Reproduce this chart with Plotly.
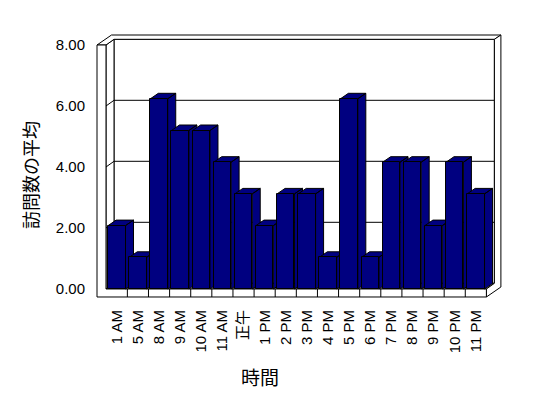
import plotly.graph_objects as go

# ---------------- data ----------------
categories = ["1 AM", "5 AM", "8 AM", "9 AM", "10 AM", "11 AM", "正午", "1 PM", "2 PM",
              "3 PM", "4 PM", "5 PM", "6 PM", "7 PM", "8 PM", "9 PM", "10 PM", "11 PM"]
values = [2, 1, 6, 5, 5, 4, 3, 2, 3, 3, 1, 6, 1, 4, 4, 2, 4, 3]
value_ticks = [0, 2, 4, 6, 8]
x_title = "時間"
y_title = "訪問数の平均"

# ---------------- geometry (pixels) ----------------
W, H = 548, 398
CX0 = 116.8      # px of category 0 centre
CW = 21.12       # px per category
Y0 = 289.0       # px of value 0 (front floor edge)
BAR_PX = 31.7    # px per unit for bars
AX_PX = 30.5     # px per unit for value axis / walls
BAR_W = 0.824    # bar width in category units
DX = 8 / CW      # bar depth offset (x units)
DY = 5.5 / BAR_PX  # bar depth offset (y units)

xr = [(0 - CX0) / CW, (W - CX0) / CW]
yr_bar = [(Y0 - H) / BAR_PX, Y0 / BAR_PX]
yr_ax = [(Y0 - H) / AX_PX, Y0 / AX_PX]

NAVY = "#000080"
FONT = "Liberation Sans, Arial, Noto Sans CJK JP, sans-serif"
CJK = "Noto Sans CJK JP, sans-serif"

fig = go.Figure()

# side + top faces (drawn left to right, base subplot)
for i, v in enumerate(values):
    xl = i - BAR_W / 2
    xrt = i + BAR_W / 2
    side = [(xrt, 0), (xrt + DX, DY), (xrt + DX, v + DY), (xrt, v), (xrt, 0)]
    top = [(xl, v), (xl + DX, v + DY), (xrt + DX, v + DY), (xrt, v), (xl, v)]
    xs = [p[0] for p in side] + [None] + [p[0] for p in top]
    ys = [p[1] for p in side] + [None] + [p[1] for p in top]
    fig.add_trace(go.Scatter(x=xs, y=ys, mode="lines", fill="toself", fillcolor=NAVY,
                             line=dict(color="black", width=1), xaxis="x", yaxis="y",
                             hoverinfo="skip", showlegend=False))

# front faces (overlay subplot, above all sides/tops)
fig.add_trace(go.Bar(x=list(range(len(values))), y=values, width=BAR_W,
                     marker=dict(color=NAVY, line=dict(color="black", width=1)),
                     xaxis="x2", yaxis="y2", showlegend=False, hoverinfo="skip"))

# dummy trace so the value axis is drawn
fig.add_trace(go.Scatter(x=[None], y=[None], xaxis="x", yaxis="y3", showlegend=False,
                         hoverinfo="skip"))


# ---------------- frame (walls / floor) ----------------
def P(px, py):
    return px / W, 1 - py / H


def path(pts, close=True):
    s = ""
    for k, (px, py) in enumerate(pts):
        x, y = P(px, py)
        s += ("M" if k == 0 else "L") + f"{x:.5f},{y:.5f} "
    return s + ("Z" if close else "")


LX0, LX1 = 97.0, 106.0          # left wall outer / inner x
TOPF = Y0 - AX_PX * 8            # front top y
DPX, DPY = 8.0, -5.7             # floor depth vector
TX, TY = 6.5, -4.3               # back wall thickness vector
FLB = 297.0                      # floor bottom y
FR = CX0 + CW * (len(values) - 0.5)  # floor right x (front)
BWL, BWR = LX1 + DPX, FR + DPX    # back wall inner left / right
BWT = TOPF + DPY                 # back wall inner top
BWB = Y0 + DPY                   # back wall inner bottom

shapes = []
box = dict(type="path", xref="paper", yref="paper", fillcolor="white",
           line=dict(color="black", width=1), layer="below")
shapes.append({**box, "path": path([(BWL, BWT), (BWR, BWT), (BWR, BWB), (BWL, BWB)])})
shapes.append({**box, "path": path([(LX1, TOPF), (BWL, BWT), (BWL, BWB), (LX1, Y0)])})
shapes.append({**box, "path": path([(LX1, Y0), (FR, Y0), (BWR, BWB), (BWL, BWB)])})
for v in value_ticks[1:-1]:
    yf = Y0 - AX_PX * v
    yb = yf + DPY
    shapes.append(dict(type="path", xref="paper", yref="paper", layer="below",
                       line=dict(color="black", width=1),
                       path=path([(LX0, yf), (LX1, yf), (BWL, yb), (BWR, yb)], close=False)))
shapes.append({**box, "path": path([(LX0, TOPF), (LX1, TOPF), (BWL, BWT), (BWR, BWT),
                                     (BWR + TX, BWT + TY), (LX0 + DPX + TX, TOPF + DPY + TY)])})
shapes.append({**box, "path": path([(FR, Y0), (BWR, BWB), (BWR, BWT), (BWR + TX, BWT + TY),
                                     (BWR + TX, FLB + DPY + TY), (FR, FLB)])})
shapes.append({**box, "path": path([(LX0, TOPF), (LX1, TOPF), (LX1, Y0), (FR, Y0),
                                     (FR, FLB), (LX0, FLB)])})
for k in range(len(values) - 1):
    px = CX0 + CW * (k + 0.5)
    x, y1 = P(px, Y0)
    _, y2 = P(px, FLB)
    shapes.append(dict(type="line", xref="paper", yref="paper", x0=x, x1=x, y0=y1, y1=y2,
                       line=dict(color="black", width=1), layer="below"))

fig.update_layout(
    width=W, height=H,
    margin=dict(l=0, r=0, t=0, b=0),
    paper_bgcolor="white", plot_bgcolor="white",
    showlegend=False,
    bargap=0,
    shapes=shapes,
    xaxis=dict(domain=[0, 1], range=xr, anchor="free", position=(H - FLB) / H,
               tickmode="array", tickvals=list(range(len(categories))), ticktext=categories,
               tickangle=-90, tickfont=dict(family=FONT, size=15, color="black"),
               showgrid=False, zeroline=False, showline=False, ticks="",
               ticklabelstandoff=9, automargin=False, fixedrange=True),
    yaxis=dict(domain=[0, 1], range=yr_bar, visible=False, anchor="x", fixedrange=True),
    xaxis2=dict(overlaying="x", range=xr, visible=False, anchor="y2", fixedrange=True),
    yaxis2=dict(overlaying="y", range=yr_bar, visible=False, anchor="x2", fixedrange=True),
    yaxis3=dict(overlaying="y", range=yr_ax, anchor="free", position=LX0 / W, side="left",
                tickmode="array", tickvals=value_ticks, tickformat=".2f",
                tickfont=dict(family=FONT, size=15, color="black"),
                showgrid=False, zeroline=False, showline=False, ticks="",
                ticklabelstandoff=12, automargin=False, fixedrange=True),
    annotations=[
        dict(text=x_title, xref="paper", yref="paper", x=260 / W, y=1 - 376 / H,
             xanchor="center", yanchor="middle",
             showarrow=False, font=dict(family=CJK, size=19, color="black")),
        dict(text=y_title, xref="paper", yref="paper", x=30 / W, y=1 - 175 / H,
             xanchor="center", yanchor="middle",
             showarrow=False, textangle=-90, font=dict(family=CJK, size=18, color="black")),
    ],
)

fig.write_html("out.html", config={"displayModeBar": False},
               post_script="document.body.style.margin='0px';")
